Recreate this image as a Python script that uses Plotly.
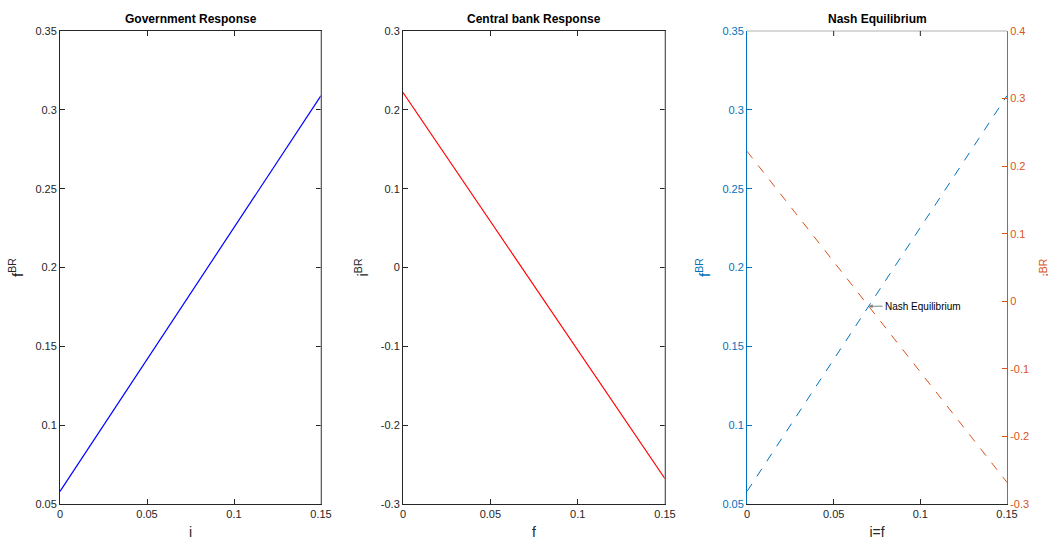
import plotly.graph_objects as go

# Data
i_vals = [0.0, 0.15]
gov_fBR = [0.058, 0.309]          # Government best response f^BR(i)
f_vals = [0.0, 0.15]
cb_iBR = [0.222, -0.268]          # Central bank best response i^BR(f)
x_ticks = [0, 0.05, 0.1, 0.15]
x_ticktext = ["0", "0.05", "0.1", "0.15"]
y1_ticks = [0.05, 0.1, 0.15, 0.2, 0.25, 0.3, 0.35]
y2_ticks = [-0.3, -0.2, -0.1, 0, 0.1, 0.2, 0.3]
y4_ticks = [-0.3, -0.2, -0.1, 0, 0.1, 0.2, 0.3, 0.4]

BLUE = "#0072BD"
ORANGE = "#D95319"
DARK = "#262626"
FONT = "Liberation Sans, Arial, sans-serif"

W, H = 1048, 540
def px(x):
    return x / W
def py(y):
    return 1 - y / H

dom1 = [px(60), px(321)]
dom2 = [px(403), px(665)]
dom3 = [px(747), px(1007)]
ydom = [py(504), py(31)]

fig = go.Figure()
fig.add_trace(go.Scatter(x=i_vals, y=gov_fBR, mode="lines",
                         line=dict(color="#0000FF", width=1.2), xaxis="x", yaxis="y", showlegend=False))
fig.add_trace(go.Scatter(x=f_vals, y=cb_iBR, mode="lines",
                         line=dict(color="#FF0000", width=1.2), xaxis="x2", yaxis="y2", showlegend=False))
fig.add_trace(go.Scatter(x=i_vals, y=gov_fBR, mode="lines",
                         line=dict(color=BLUE, width=1, dash="dash"), xaxis="x3", yaxis="y3", showlegend=False))
fig.add_trace(go.Scatter(x=f_vals, y=cb_iBR, mode="lines",
                         line=dict(color=ORANGE, width=1, dash="dash"), xaxis="x3", yaxis="y4", showlegend=False))

tickfont = dict(family=FONT, size=11, color=DARK)
titlefont = dict(family=FONT, size=14, color=DARK)

def xaxis(dom, anchor, title):
    return dict(domain=dom, anchor=anchor, range=[0, 0.15], tickvals=x_ticks, ticktext=x_ticktext,
                ticks="inside", ticklen=5, tickcolor=DARK, showline=True, linecolor=DARK, linewidth=1,
                mirror="ticks", showgrid=False, zeroline=False, tickfont=tickfont,
                title=dict(text=title, font=titlefont, standoff=8), automargin=False)

def yaxis(dom, anchor, rng, tv, title, color=DARK, side="left", overlaying=None, mirror="ticks"):
    d = dict(domain=dom, anchor=anchor, range=rng, tickvals=tv, ticktext=[("%g" % v) for v in tv],
             ticks="inside", ticklen=5, tickcolor=color,
             showline=True, linecolor=color, linewidth=1, mirror=mirror, side=side,
             showgrid=False, zeroline=False, tickfont=dict(family=FONT, size=11, color=color),
             title=dict(text=title, font=dict(family=FONT, size=15, color=color), standoff=8),
             automargin=False)
    if overlaying:
        d["overlaying"] = overlaying
    return d

fig.update_layout(
    width=W, height=H,
    margin=dict(l=0, r=0, t=0, b=0),
    plot_bgcolor="white", paper_bgcolor="white",
    xaxis=xaxis(dom1, "y", "i"),
    yaxis=yaxis(ydom, "x", [0.05, 0.35], y1_ticks, "f<sup>BR</sup>"),
    xaxis2=xaxis(dom2, "y2", "f"),
    yaxis2=yaxis(ydom, "x2", [-0.3, 0.3], y2_ticks, "i<sup>BR</sup>"),
    xaxis3=xaxis(dom3, "y3", "i=f"),
    yaxis3=yaxis(ydom, "x3", [0.05, 0.35], y1_ticks, "f<sup>BR</sup>", color=BLUE, mirror=False),
    yaxis4=yaxis(ydom, "x3", [-0.3, 0.4], y4_ticks, "", color=ORANGE, side="right",
                 overlaying="y3", mirror=False),
)
fig.layout.xaxis3.mirror = False

# Box lines (right edges gray like the reference)
shapes = []
for dom in (dom1, dom2):
    shapes.append(dict(type="line", xref="paper", yref="paper", x0=dom[1], x1=dom[1],
                       y0=ydom[0], y1=ydom[1], line=dict(color="#9a9a9a", width=1), layer="above"))
# panel 3 top border gray
shapes.append(dict(type="line", xref="paper", yref="paper", x0=dom3[0], x1=dom3[1],
                   y0=ydom[1], y1=ydom[1], line=dict(color="#b0b0b0", width=1), layer="above"))
# panel 3 top ticks
for t in x_ticks[1:-1]:
    shapes.append(dict(type="line", xref="x3", yref="paper", x0=t, x1=t,
                       y0=ydom[1], y1=ydom[1] - 5 / H, line=dict(color=DARK, width=1)))
fig.update_layout(shapes=shapes)

# Intersection point for Nash equilibrium (in left-axis coordinates of panel 3)
lo3, hi3 = 0.05, 0.35
lo4, hi4 = -0.3, 0.4
def to_left(v):
    return lo3 + (v - lo4) / (hi4 - lo4) * (hi3 - lo3)
a0 = gov_fBR[0]; a1 = gov_fBR[1]
b0 = to_left(cb_iBR[0]); b1 = to_left(cb_iBR[1])
t = (b0 - a0) / ((a1 - a0) - (b1 - b0))
ne_x = i_vals[0] + t * (i_vals[1] - i_vals[0])
ne_y = a0 + t * (a1 - a0)

def title_ann(text, dom):
    return dict(text="<b>%s</b>" % text, x=(dom[0] + dom[1]) / 2, y=py(19), xref="paper", yref="paper",
                showarrow=False, font=dict(family=FONT, size=12, color="black"),
                xanchor="center", yanchor="middle")

annotations = [
    title_ann("Government Response", dom1),
    title_ann("Central bank Response", dom2),
    title_ann("Nash Equilibrium", dom3),
    dict(text="Nash Equilibrium", x=ne_x, y=ne_y, xref="x3", yref="y3", showarrow=True,
         ax=14, ay=0, xanchor="left", arrowhead=2, arrowsize=0.8, arrowwidth=1, arrowcolor="#808080",
         font=dict(family=FONT, size=10, color="black")),
    dict(text="i<sup>BR</sup>", x=px(1047), y=(ydom[0] + ydom[1]) / 2, xref="paper", yref="paper",
         showarrow=False, textangle=-90, xanchor="center", yanchor="middle",
         font=dict(family=FONT, size=15, color=ORANGE)),
]
fig.update_layout(annotations=annotations)

fig.write_html("out.html", config={"displayModeBar": False},
               post_script="document.body.style.margin='0px';")
